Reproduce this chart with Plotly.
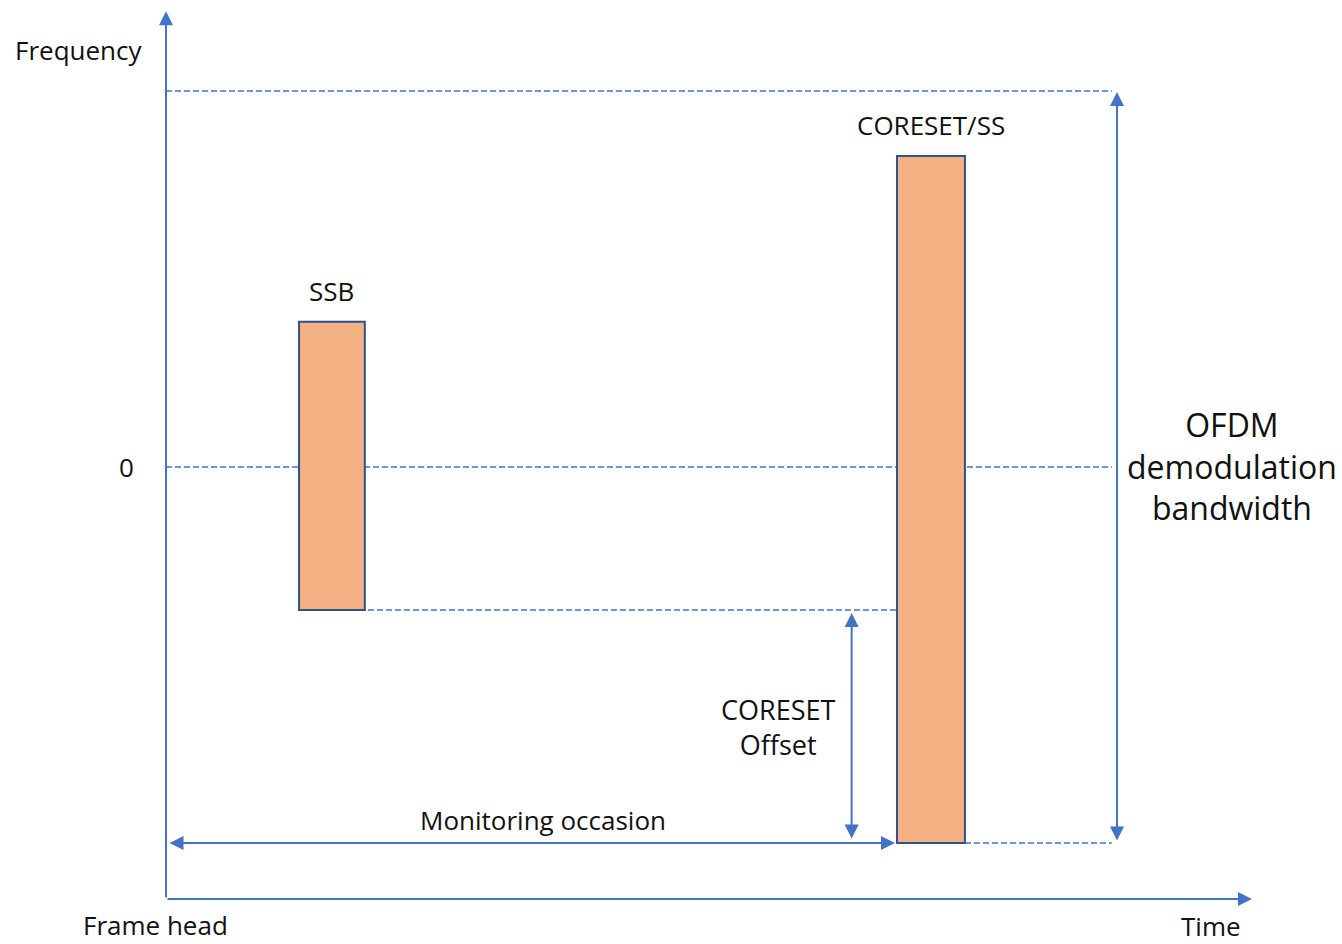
import plotly.graph_objects as go

# ---------------- data ----------------
# time in arbitrary slot units (0 = frame head), frequency in % of half OFDM bandwidth
block_names = ["SSB", "CORESET/SS"]
block_t_start = [18.2, 100.0]
block_t_end = [27.2, 109.3]
block_f_low = [-38.0, -100.0]
block_f_high = [38.6, 82.7]

bandwidth_half = 100.0          # OFDM demodulation bandwidth is +/- this
frame_head_t = 0.0
monitoring_t = 100.0            # monitoring occasion (CORESET start)
offset_marker_t = 93.8          # where the CORESET offset arrow is drawn
ofdm_marker_t = 130.1           # where the bandwidth arrow is drawn
dash_end_t = 129.4              # right end of the dashed reference lines
time_axis_end = 148.7
freq_axis_top = 121.5
freq_axis_origin = -114.9

x_range = [-22.71, 160.88]
y_range = [-126.86, 124.20]

BLUE = "#4472C4"
FILL = "#F4B183"
EDGE = "#2F528F"
FONT = "Open Sans"
TXT = "#111111"

fig = go.Figure()
shapes = []
annotations = []

def dashed(t0, t1, f):
    shapes.append(dict(type="line", xref="x", yref="y", x0=t0, x1=t1, y0=f, y1=f,
                       line=dict(color=BLUE, width=1.5, dash="6px,3px"), layer="above"))

# dashed reference lines
dashed(frame_head_t, dash_end_t, bandwidth_half)
dashed(frame_head_t, dash_end_t, 0.0)
dashed(block_t_start[0] + (block_t_end[0] - block_t_start[0]) / 2, block_t_start[1], block_f_low[0])
dashed(block_t_end[1], dash_end_t, -bandwidth_half)

# blocks
for name, t0, t1, f0, f1 in zip(block_names, block_t_start, block_t_end, block_f_low, block_f_high):
    shapes.append(dict(type="rect", xref="x", yref="y", x0=t0, x1=t1, y0=f0, y1=f1,
                       fillcolor=FILL, line=dict(color=EDGE, width=2), layer="above"))
    annotations.append(dict(x=(t0 + t1) / 2, y=f1, xref="x", yref="y", text=name,
                            showarrow=False, yanchor="bottom", yshift=11,
                            font=dict(family=FONT, size=26, color=TXT)))

def arrow(x, y, ax, ay, both=False, width=2, ss=1):
    d = dict(x=x, y=y, ax=ax, ay=ay, xref="x", yref="y", axref="x", ayref="y",
             text="", showarrow=True, arrowhead=2, arrowsize=1.4, arrowwidth=width,
             arrowcolor=BLUE, standoff=ss)
    if both:
        d.update(arrowside="end+start", startarrowhead=2, startarrowsize=1.4, startstandoff=ss)
    annotations.append(d)

# axes (time / frequency)
arrow(frame_head_t, freq_axis_top, frame_head_t, freq_axis_origin)
arrow(time_axis_end, freq_axis_origin, frame_head_t, freq_axis_origin)

# measurement arrows
arrow(monitoring_t, -bandwidth_half, frame_head_t, -bandwidth_half, both=True, ss=2)
arrow(offset_marker_t, block_f_low[0], offset_marker_t, -bandwidth_half, both=True, ss=3)
arrow(ofdm_marker_t, bandwidth_half, ofdm_marker_t, -bandwidth_half, both=True, ss=1)

def label(t, f, text, size=26):
    annotations.append(dict(x=t, y=f, xref="x", yref="y", text=text, showarrow=False,
                            font=dict(family=FONT, size=size, color=TXT)))

label(-12.04, 110.9, "Frequency")
label(-5.47, 0.0, "0")
label(145.8, 0.3, "OFDM<br>demodulation<br>bandwidth", size=32)
label(83.7, -69.1, "CORESET<br>Offset", size=27)
label(51.6, -93.9, "Monitoring occasion")
label(-1.5, -121.8, "Frame head")
label(143.0, -122.1, "Time")

fig.update_layout(
    width=1342, height=944,
    margin=dict(l=0, r=0, t=0, b=0),
    paper_bgcolor="white", plot_bgcolor="white",
    shapes=shapes, annotations=annotations,
    showlegend=False,
    xaxis=dict(range=x_range, visible=False, fixedrange=True),
    yaxis=dict(range=y_range, visible=False, fixedrange=True),
)

fig.write_html("out.html", config={"displayModeBar": False},
               post_script="document.body.style.margin='0';document.body.style.overflow='hidden';")
